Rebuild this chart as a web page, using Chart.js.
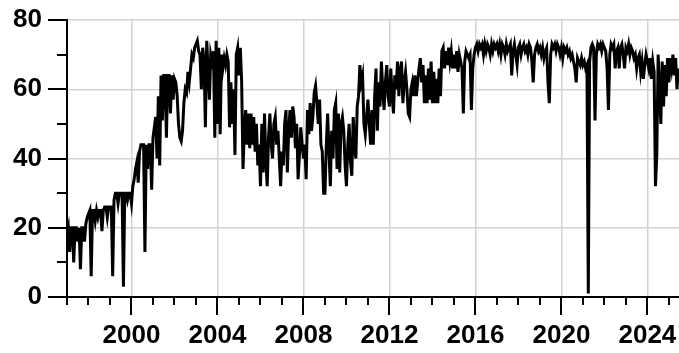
<!DOCTYPE html>
<html>
<head>
<meta charset="utf-8">
<script src="https://cdn.jsdelivr.net/npm/chart.js@4.4.1/dist/chart.umd.min.js"></script>
<style>
  html, body { margin: 0; padding: 0; background: #fff; }
  canvas { display: block; }
</style>
</head>
<body>
<canvas id="lineChart" width="679" height="353"></canvas>
<script>
const firstYear = 1997;
const samplesPerYear = 16;
const xMin = 1997;
const xMax = 2025.47;
const yMin = 0;
const yMax = 80;
const yLabelTicks = [0, 20, 40, 60, 80];
const xLabelTicks = [2000, 2004, 2008, 2012, 2016, 2020, 2024];

// values, 16 per year starting Jan 1997
const values = [
    // 1997
    18, 20, 13, 20, 20, 10, 20, 20, 16, 20, 8, 20, 20, 16, 21, 23,
    // 1998
    24, 25, 6, 25, 25, 22, 25, 23, 25, 25, 19, 25, 26, 26, 23, 26,
    // 1999
    26, 26, 6, 28, 30, 30, 27, 30, 30, 30, 3, 30, 30, 28, 30, 30,
    // 2000
    27, 32, 34, 37, 39, 33, 42, 44, 44, 44, 13, 44, 37, 44, 44, 31,
    // 2001
    46, 49, 52, 40, 58, 38, 64, 51, 64, 64, 46, 64, 64, 53, 64, 57,
    // 2002
    63, 62, 58, 50, 46, 45, 48, 56, 60, 59, 65, 62, 66, 70, 69, 72,
    // 2003
    73, 74, 71, 70, 60, 72, 68, 49, 74, 66, 57, 70, 68, 71, 46, 74,
    // 2004
    50, 72, 47, 70, 66, 69, 67, 70, 68, 49, 62, 50, 60, 41, 70, 72,
    // 2005
    64, 72, 62, 37, 48, 54, 44, 53, 43, 53, 44, 52, 42, 50, 38, 44,
    // 2006
    32, 50, 36, 53, 40, 32, 46, 53, 44, 40, 50, 52, 44, 48, 40, 32,
    // 2007
    42, 38, 50, 54, 36, 48, 54, 46, 55, 52, 43, 50, 34, 41, 49, 44,
    // 2008
    40, 44, 34, 54, 47, 56, 48, 52, 59, 61, 56, 50, 57, 44, 42, 30,
    // 2009
    30, 44, 53, 42, 32, 48, 40, 54, 56, 37, 53, 36, 50, 52, 48, 38,
    // 2010
    32, 44, 50, 39, 35, 52, 44, 40, 55, 58, 67, 62, 64, 50, 47, 52,
    // 2011
    57, 50, 44, 54, 44, 58, 66, 48, 62, 55, 68, 60, 54, 62, 67, 58,
    // 2012
    55, 66, 58, 53, 64, 60, 68, 58, 65, 68, 56, 62, 65, 60, 53, 52,
    // 2013
    60, 62, 58, 64, 58, 62, 66, 69, 62, 67, 56, 64, 56, 66, 57, 68,
    // 2014
    56, 65, 56, 63, 56, 66, 58, 71, 72, 66, 71, 67, 72, 68, 71, 66,
    // 2015
    70, 66, 71, 65, 70, 68, 66, 53, 68, 71, 70, 69, 70, 54, 66, 70,
    // 2016
    72, 73, 71, 73, 72, 73, 70, 73, 71, 73, 72, 70, 73, 71, 73, 72,
    // 2017
    73, 71, 73, 70, 73, 72, 70, 73, 71, 72, 73, 64, 71, 73, 70, 67,
    // 2018
    72, 73, 70, 72, 73, 71, 72, 70, 73, 72, 68, 62, 70, 72, 73, 71,
    // 2019
    72, 70, 72, 69, 71, 72, 62, 56, 70, 73, 72, 73, 71, 73, 72, 70,
    // 2020
    72, 69, 72, 71, 72, 70, 71, 69, 70, 68, 66, 62, 69, 68, 67, 69,
    // 2021
    67, 68, 66, 67, 1, 68, 72, 73, 72, 51, 70, 73, 72, 73, 71, 73,
    // 2022
    72, 71, 66, 54, 70, 73, 72, 73, 66, 71, 72, 66, 72, 73, 70, 66,
    // 2023
    72, 71, 73, 70, 72, 71, 69, 70, 66, 69, 70, 65, 68, 63, 67, 70,
    // 2024
    68, 66, 69, 63, 68, 65, 32, 41, 70, 60, 50, 68, 55, 67, 58, 69,
    // 2025
    62, 69, 66, 70, 64, 69, 60, 66
];

const points = values.map((v, i) => ({ x: firstYear + i / samplesPerYear, y: v }));

const gridGray = '#d3d3d3';

// tick marks below / left of the axes, major ones longer
const tickMarks = {
    id: 'tickMarks',
    afterDraw(chart) {
        const ctx = chart.ctx;
        const xs = chart.scales.x;
        const ys = chart.scales.y;
        const area = chart.chartArea;
        ctx.save();
        ctx.strokeStyle = '#000';
        ctx.lineWidth = 2;
        ctx.beginPath();
        for (let yr = xMin; yr <= Math.floor(xMax); yr++) {
            const px = Math.round(xs.getPixelForValue(yr));
            const len = xLabelTicks.includes(yr) ? 18 : 8;
            ctx.moveTo(px, area.bottom);
            ctx.lineTo(px, area.bottom + len);
        }
        for (let v = yMin; v <= yMax; v += 10) {
            const py = Math.round(ys.getPixelForValue(v));
            const len = yLabelTicks.includes(v) ? 19 : 10;
            ctx.moveTo(area.left, py);
            ctx.lineTo(area.left - len, py);
        }
        ctx.stroke();
        ctx.restore();
    }
};

Chart.defaults.font.family = "'Liberation Sans', Arial, sans-serif";
Chart.defaults.font.weight = 'bold';
Chart.defaults.font.size = 26;
Chart.defaults.color = '#000';

const ctx = document.getElementById('lineChart').getContext('2d');
const lineChart = new Chart(ctx, {
    type: 'line',
    data: {
        datasets: [{
            data: points,
            borderColor: '#000',
            borderWidth: 3,
            pointRadius: 0,
            tension: 0,
            fill: false
        }]
    },
    options: {
        responsive: false,
        animation: false,
        layout: { padding: { top: 20, right: 0, left: 0, bottom: 0 } },
        plugins: {
            legend: { display: false },
            tooltip: { enabled: false }
        },
        scales: {
            x: {
                type: 'linear',
                min: xMin,
                max: xMax,
                afterFit: (scale) => {
                    scale.height = 56;
                    scale.paddingLeft = 0;
                    scale.paddingRight = 0;
                },
                border: { display: true, color: '#000', width: 2 },
                grid: {
                    drawTicks: false,
                    lineWidth: 1.5,
                    color: (c) => xLabelTicks.includes(c.tick.value) ? gridGray : 'rgba(0,0,0,0)'
                },
                ticks: {
                    stepSize: 1,
                    includeBounds: false,
                    autoSkip: false,
                    maxRotation: 0,
                    padding: 23,
                    callback: (v) => xLabelTicks.includes(v) ? String(v) : ''
                }
            },
            y: {
                min: yMin,
                max: yMax,
                afterFit: (scale) => {
                    scale.width = 67;
                    scale.paddingTop = 0;
                    scale.paddingBottom = 0;
                },
                border: { display: true, color: '#000', width: 2 },
                grid: {
                    drawTicks: false,
                    lineWidth: 1.5,
                    color: (c) => (c.tick.value > 0 && yLabelTicks.includes(c.tick.value)) ? gridGray : 'rgba(0,0,0,0)'
                },
                ticks: {
                    stepSize: 10,
                    padding: 25,
                    callback: (v) => yLabelTicks.includes(v) ? String(v) : ''
                }
            }
        }
    },
    plugins: [tickMarks]
});
</script>
</body>
</html>
